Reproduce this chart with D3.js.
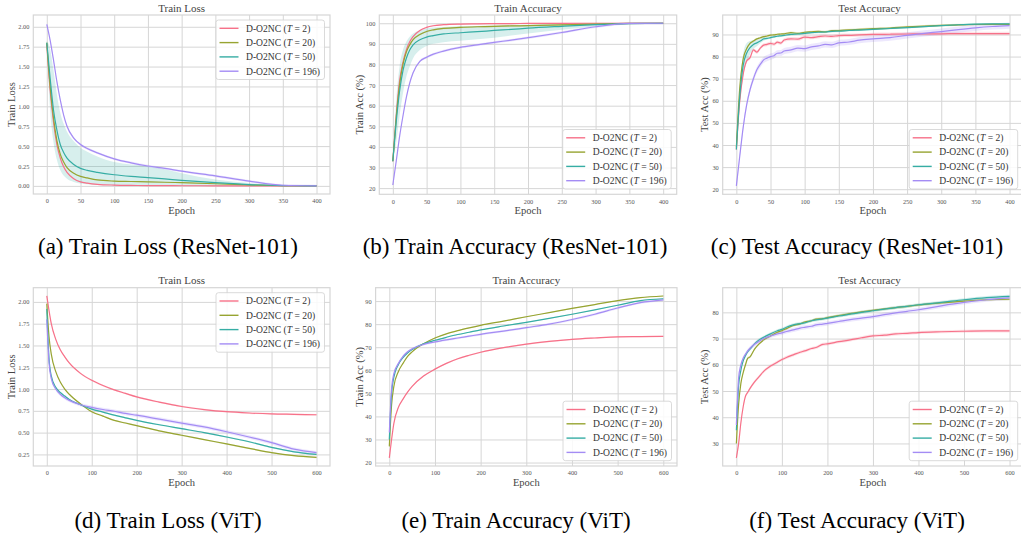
<!DOCTYPE html>
<html><head><meta charset="utf-8">
<script src="https://cdn.jsdelivr.net/npm/d3@7"></script>
<style>
body{margin:0;background:#fff;}
svg{display:block;}
text{font-family:"Liberation Serif","DejaVu Serif",serif;}
</style>
</head><body>
<svg id="chart" width="1021" height="535"></svg>
<script>
// ---------------- DATA ----------------
const seriesT = ["2", "20", "50", "196"];
const colors = ["#f77189", "#97a431", "#36ada4", "#a48cf4"];

// (a) Train Loss, ResNet-101
const epochsA = [0,5,10,15,20,25,30,40,50,60,75,100,125,150,175,200,250,300,350,400];
const lossRes_T2   = [1.78,1.20,0.80,0.52,0.35,0.24,0.17,0.09,0.05,0.035,0.02,0.01,0.006,0.004,0.003,0.002,0.001,0.0,0.0,0.0];
const lossRes_T20  = [1.80,1.25,0.85,0.57,0.40,0.30,0.23,0.16,0.12,0.10,0.075,0.06,0.055,0.05,0.046,0.04,0.027,0.013,0.003,0.0];
const lossRes_T50  = [1.80,1.35,0.95,0.70,0.52,0.42,0.35,0.27,0.22,0.195,0.17,0.14,0.12,0.105,0.088,0.07,0.04,0.017,0.003,0.0];
const lossRes_T196 = [2.03,1.83,1.58,1.31,1.08,0.89,0.75,0.60,0.52,0.47,0.415,0.34,0.29,0.25,0.22,0.185,0.125,0.06,0.008,0.0];
const lossRes_T50_lo = [1.78,0.95,0.55,0.33,0.20,0.13,0.09,0.05,0.03,0.02,0.01,0.005,0.003,0.002,0.001,0,0,0,0,0];
const lossRes_T50_hi = [1.82,1.72,1.45,1.15,0.92,0.78,0.68,0.56,0.48,0.43,0.37,0.30,0.27,0.25,0.21,0.16,0.08,0.035,0.008,0.0];
const lossRes_spread = [0.004, 0.004, 0, 0.015];

// (b) Train Accuracy, ResNet-101
const trainAccRes_T2   = [33,55,72,81,87,91,93.5,96.5,98,98.8,99.3,99.6,99.7,99.8,99.85,99.9,99.95,100,100,100];
const trainAccRes_T20  = [33,54,70,80,86,89.5,92,94.5,96,96.8,97.5,98.0,98.3,98.5,98.7,98.8,99.2,99.6,99.9,100];
const trainAccRes_T50  = [33,52,67,77,83,87,89.5,92,93.3,94,94.8,95.4,95.9,96.5,97,97.6,98.5,99.3,99.8,100];
const trainAccRes_T196 = [21.5,33,45,55,64,71,76,81.5,83.5,85,86.5,88.3,89.5,90.7,91.8,93,95.5,98.3,99.9,100];
const trainAccRes_T50_lo = [33,42,55,66,74,79,83,87,89,90,90.8,91.5,92.2,93,94,95,96.8,98.5,99.6,100];
const trainAccRes_T50_hi = [33,62,79,87,91,93.5,95,96.6,97.5,97.9,98.2,98.5,98.7,98.8,99,99.2,99.5,99.8,99.95,100];
const trainAccRes_spread = [0.3, 0.4, 0, 0.6];

// (c) Test Accuracy, ResNet-101
const epochsC = [0,5,10,15,20,25,30,35,40,45,50,55,60,65,70,80,90,100,110,120,130,140,150,165,180,200,225,250,275,300,325,350,375,400];
const testAccRes_T2   = [38,60,72,78,79.5,83,82,83.8,85.2,85.5,86,85.6,86.5,86.1,87.5,88,87.9,88.8,88.6,89,89.3,89.1,89.5,89.6,89.8,90,90.1,90.2,90.3,90.3,90.4,90.4,90.4,90.4];
const testAccRes_T20  = [39,66,79,83.5,86,87,88,88.5,89,89.3,89.7,89.8,90.1,90.2,90.3,90.8,90.5,91,91.2,91.4,91.2,91.7,91.8,92.1,92.3,92.6,92.9,93.4,93.8,94.1,94.3,94.5,94.6,94.6];
const testAccRes_T50  = [38,62,76,81.5,84,85.5,86.2,87,88,88.2,88.6,88.9,89.2,89.4,89.6,90,90.2,90.5,90.8,91,91.1,91.4,91.5,91.8,92,92.3,92.7,93.1,93.5,94,94.4,94.7,94.8,94.8];
const testAccRes_T196 = [21.5,35,48,58,65,70,74,76.5,78.5,79.3,80,80.4,81.5,81.6,82.5,83,83.8,83.6,84.4,84.8,85.5,85.3,86.2,86.6,87.4,88,88.6,89.6,90.5,91.3,92.2,93,93.6,94];
const testAccRes_T50_spread = [0,4,5,4.5,3,2,1.5,1,0.8,0.6,0.5,0.5,0.5,0.5,0.5,0.5,0.5,0.5,0.5,0.5,0.5,0.5,0.5,0.4,0.4,0.4,0.4,0.4,0.3,0.3,0.3,0.3,0.3,0.3];
const testAccRes_spread = [0.8, 0.5, 0, 1.4];

// (d) Train Loss, ViT
const epochsD = [0,5,10,20,30,40,50,75,100,125,150,175,200,250,300,350,400,450,500,550,600];
const lossVit_T2   = [2.07,1.90,1.75,1.57,1.45,1.37,1.30,1.18,1.10,1.04,0.99,0.95,0.91,0.85,0.80,0.765,0.74,0.725,0.715,0.71,0.705];
const lossVit_T20  = [1.98,1.60,1.40,1.20,1.08,1.00,0.94,0.83,0.74,0.69,0.64,0.61,0.58,0.52,0.47,0.42,0.37,0.32,0.27,0.235,0.215];
const lossVit_T50  = [1.92,1.35,1.15,1.02,0.96,0.92,0.88,0.82,0.77,0.735,0.70,0.67,0.64,0.59,0.545,0.50,0.45,0.395,0.33,0.28,0.25];
const lossVit_T196 = [1.80,1.30,1.12,1.00,0.94,0.90,0.87,0.82,0.79,0.765,0.745,0.72,0.70,0.655,0.61,0.565,0.51,0.45,0.385,0.31,0.27];
const lossVit_spread = [0.01, 0.008, 0.008, 0.02];

// (e) Train Accuracy, ViT
const trainAccVit_T2   = [22,30,37,44,47.5,50.5,53,57.5,60.5,63,65,66.5,67.8,69.8,71.3,72.5,73.4,74,74.5,74.6,74.7];
const trainAccVit_T20  = [27,45,53,59.5,63,66,68,71.5,74,75.8,77.2,78.4,79.5,81.3,83.2,85,86.8,88.5,90.2,91.5,92.2];
const trainAccVit_T50  = [30,50,57,62.5,65.5,67.5,69,71.5,73,74.3,75.5,76.5,77.5,79.2,80.8,82.5,84.3,86.2,88.2,90.2,91];
const trainAccVit_T196 = [33,52,58.5,63,66,68,69.3,71.2,72.3,73.2,74,74.8,75.6,77,78.5,80,82,84.3,87,89.3,90.5];
const trainAccVit_spread = [0.3, 0.2, 0.2, 0.5];

// (f) Test Accuracy, ViT
const epochsF = [0,5,10,15,20,25,30,40,50,60,75,90,100,110,125,140,150,165,175,190,200,225,250,275,300,325,350,375,400,450,500,550,600];
const testAccVit_T2   = [24.5,30,38,44,48,49.5,51,53.5,55.5,57.5,59.5,61,62,62.8,63.8,64.8,65.3,66.2,66.6,67.8,68,68.8,69.5,70.3,71,71.3,71.8,72,72.3,72.6,72.8,72.9,72.9];
const testAccVit_T20  = [30,45,53,57,60,62.5,63,66,68,69.5,71,72.4,73,73.8,75,75.6,76.3,76.8,77.4,77.6,78,78.8,79.5,80.2,80.8,81.3,81.8,82.3,82.8,83.6,84.3,84.8,85];
const testAccVit_T50  = [35,52,58,61.5,63.5,65,66,68,69.5,70.5,71.8,73,73.5,74.3,75.2,75.7,76,76.8,77.1,77.5,77.8,78.6,79.3,80,80.6,81.2,81.8,82.3,82.9,83.8,84.8,85.6,86.1];
const testAccVit_T196 = [37,55,60,62.5,64,65.3,66.3,67.8,69,70,71,71.8,72.2,72.7,73.3,74,74.3,74.7,75.2,75.5,75.8,76.5,77.2,77.8,78.4,79.1,79.8,80.4,81,82.5,83.8,84.8,85.5];
const testAccVit_spread = [0.6, 0.5, 0.6, 0.8];

const captions = ["(a) Train Loss (ResNet-101)", "(b) Train Accuracy (ResNet-101)", "(c) Test Accuracy (ResNet-101)",
                  "(d) Train Loss (ViT)", "(e) Train Accuracy (ViT)", "(f) Test Accuracy (ViT)"];
const titles = ["Train Loss", "Train Accuracy", "Test Accuracy", "Train Loss", "Train Accuracy", "Test Accuracy"];
const yLabels = ["Train Loss", "Train Acc (%)", "Test Acc (%)", "Train Loss", "Train Acc (%)", "Test Acc (%)"];
const xLabel = "Epoch";

// ---------------- LAYOUT ----------------
const f2 = d3.format(".2f"), f0 = d3.format("d");
const panels = [
  {x0:33.3, x1:330, y0:15, y1:194, xdom:[-20,420], ydom:[-0.102,2.148], xt:d3.range(0,401,50), yt:d3.range(0,2.01,0.25), yf:f2, yOff:21.5, leg:"tr",
   ep:epochsA, ys:[lossRes_T2,lossRes_T20,lossRes_T50,lossRes_T196], spread:lossRes_spread, bands:[{i:2, lo:lossRes_T50_lo, hi:lossRes_T50_hi}], capX:168, capY:254},
  {x0:379.3, x1:676.7, y0:15, y1:194.3, xdom:[-20,420], ydom:[17,104], xt:d3.range(0,401,50), yt:d3.range(20,101,10), yf:f0, yOff:20, leg:"br",
   ep:epochsA, ys:[trainAccRes_T2,trainAccRes_T20,trainAccRes_T50,trainAccRes_T196], spread:trainAccRes_spread, bands:[{i:2, lo:trainAccRes_T50_lo, hi:trainAccRes_T50_hi}], capX:515, capY:254},
  {x0:722.7, x1:1023.2, y0:15, y1:194.3, xdom:[-20,420], ydom:[17.7,98.8], xt:d3.range(0,401,50), yt:d3.range(20,91,10), yf:f0, yOff:18.5, leg:"br",
   ep:epochsC, ys:[testAccRes_T2,testAccRes_T20,testAccRes_T50,testAccRes_T196], spread:testAccRes_spread, bands:[{i:2, sp:testAccRes_T50_spread}], capX:857, capY:254},
  {x0:33.3, x1:330, y0:287.7, y1:466, xdom:[-30,630], ydom:[0.117,2.163], xt:d3.range(0,601,100), yt:d3.range(0.25,2.01,0.25), yf:f2, yOff:21.5, leg:"tr",
   ep:epochsD, ys:[lossVit_T2,lossVit_T20,lossVit_T50,lossVit_T196], spread:lossVit_spread, bands:[], capX:168, capY:528},
  {x0:375.6, x1:677, y0:287.7, y1:466, xdom:[-30,630], ydom:[18.5,95.8], xt:d3.range(0,601,100), yt:d3.range(20,91,10), yf:f0, yOff:16.5, leg:"br",
   ep:epochsD, ys:[trainAccVit_T2,trainAccVit_T20,trainAccVit_T50,trainAccVit_T196], spread:trainAccVit_spread, bands:[], capX:516, capY:528},
  {x0:722.7, x1:1023.2, y0:287.7, y1:466, xdom:[-30,630], ydom:[21.4,89.4], xt:d3.range(0,601,100), yt:d3.range(30,81,10), yf:f0, yOff:18.5, leg:"br",
   ep:epochsF, ys:[testAccVit_T2,testAccVit_T20,testAccVit_T50,testAccVit_T196], spread:testAccVit_spread, bands:[], capX:857, capY:528}
];

const svg = d3.select("#chart");
svg.append("rect").attr("width",1021).attr("height",535).attr("fill","#fff");
const gridColor = "#d6d6d6";

panels.forEach((p, k) => {
  const x = d3.scaleLinear().domain(p.xdom).range([p.x0, p.x1]);
  const y = d3.scaleLinear().domain(p.ydom).range([p.y1, p.y0]);
  const g = svg.append("g");
  const cid = "clip" + k;
  svg.append("clipPath").attr("id", cid).append("rect")
    .attr("x", p.x0).attr("y", p.y0).attr("width", p.x1 - p.x0).attr("height", p.y1 - p.y0);

  const gx = g.append("g").attr("transform", `translate(0,${p.y1})`)
    .call(d3.axisBottom(x).tickValues(p.xt).tickFormat(f0).tickSize(-(p.y1 - p.y0)).tickPadding(5));
  const gy = g.append("g").attr("transform", `translate(${p.x0},0)`)
    .call(d3.axisLeft(y).tickValues(p.yt).tickFormat(p.yf).tickSize(-(p.x1 - p.x0)).tickPadding(4));
  [gx, gy].forEach(a => {
    a.select(".domain").remove();
    a.selectAll(".tick line").attr("stroke", gridColor).attr("stroke-width", 1);
    a.selectAll(".tick text").attr("fill", "#555").style("font-size", "6.3px")
      .style("font-family", '"Liberation Serif","DejaVu Serif",serif');
  });
  g.append("rect").attr("x", p.x0).attr("y", p.y0).attr("width", p.x1 - p.x0).attr("height", p.y1 - p.y0)
    .attr("fill", "none").attr("stroke", gridColor).attr("stroke-width", 1.2);

  const plot = g.append("g").attr("clip-path", `url(#${cid})`);
  p.ys.forEach((vals, i) => {
    const band = p.bands.find(b => b.i === i);
    let lo, hi;
    if (band && band.lo) { lo = band.lo; hi = band.hi; }
    else if (band && band.sp) { lo = vals.map((v, j) => v - band.sp[j]); hi = vals.map((v, j) => v + band.sp[j]); }
    else { const s = p.spread[i]; if (!s) return; lo = vals.map(v => v - s); hi = vals.map(v => v + s); }
    const area = d3.area().x((d, j) => x(p.ep[j])).y0((d, j) => y(lo[j])).y1((d, j) => y(hi[j])).curve(d3.curveMonotoneX);
    plot.append("path").datum(vals).attr("d", area).attr("fill", colors[i]).attr("fill-opacity", 0.2);
  });
  p.ys.forEach((vals, i) => {
    const line = d3.line().x((d, j) => x(p.ep[j])).y(d => y(d)).curve(d3.curveMonotoneX);
    plot.append("path").datum(vals).attr("d", line).attr("fill", "none")
      .attr("stroke", colors[i]).attr("stroke-width", 1.2).attr("stroke-linejoin", "round");
  });

  g.append("text").attr("x", (p.x0 + Math.min(p.x1, 1016.5)) / 2).attr("y", p.y0 - 3.5)
    .attr("text-anchor", "middle").attr("fill", "#444").style("font-size", "11px").text(titles[k]);
  g.append("text").attr("x", (x(p.xt[0]) + x(p.xt[p.xt.length - 1])) / 2).attr("y", p.y1 + 20)
    .attr("text-anchor", "middle").attr("fill", "#444").style("font-size", "10.5px").text(xLabel);
  g.append("text").attr("transform", `translate(${p.x0 - p.yOff + 3.5},${(p.y0 + p.y1) / 2}) rotate(-90)`)
    .attr("text-anchor", "middle").attr("fill", "#444").style("font-size", "10.5px").text(yLabels[k]);

  const lw = 108.5, lh = 59.5;
  const right = Math.min(p.x1, 1023.2) - 5.5;
  const lx = right - lw;
  const ly = p.leg === "tr" ? p.y0 + 5 : p.y1 - 5.3 - lh;
  const lg = g.append("g").attr("transform", `translate(${lx},${ly})`);
  lg.append("rect").attr("width", lw).attr("height", lh).attr("rx", 2.5)
    .attr("fill", "#fff").attr("fill-opacity", 0.85).attr("stroke", "#d0d0d0").attr("stroke-width", 0.8);
  seriesT.forEach((t, i) => {
    const yy = 8.3 + i * 14.3;
    lg.append("line").attr("x1", 3.5).attr("x2", 22.5).attr("y1", yy).attr("y2", yy)
      .attr("stroke", colors[i]).attr("stroke-width", 1.4);
    const tx = lg.append("text").attr("x", 30).attr("y", yy + 3.3).attr("fill", "#333").style("font-size", "9.6px");
    tx.append("tspan").text("D-O2NC (");
    tx.append("tspan").style("font-style", "italic").text("T");
    tx.append("tspan").text(" = " + t + ")");
  });

  svg.append("text").attr("x", p.capX).attr("y", p.capY).attr("text-anchor", "middle")
    .attr("fill", "#000").style("font-size", "23px").text(captions[k]);
});
</script>
</body></html>
